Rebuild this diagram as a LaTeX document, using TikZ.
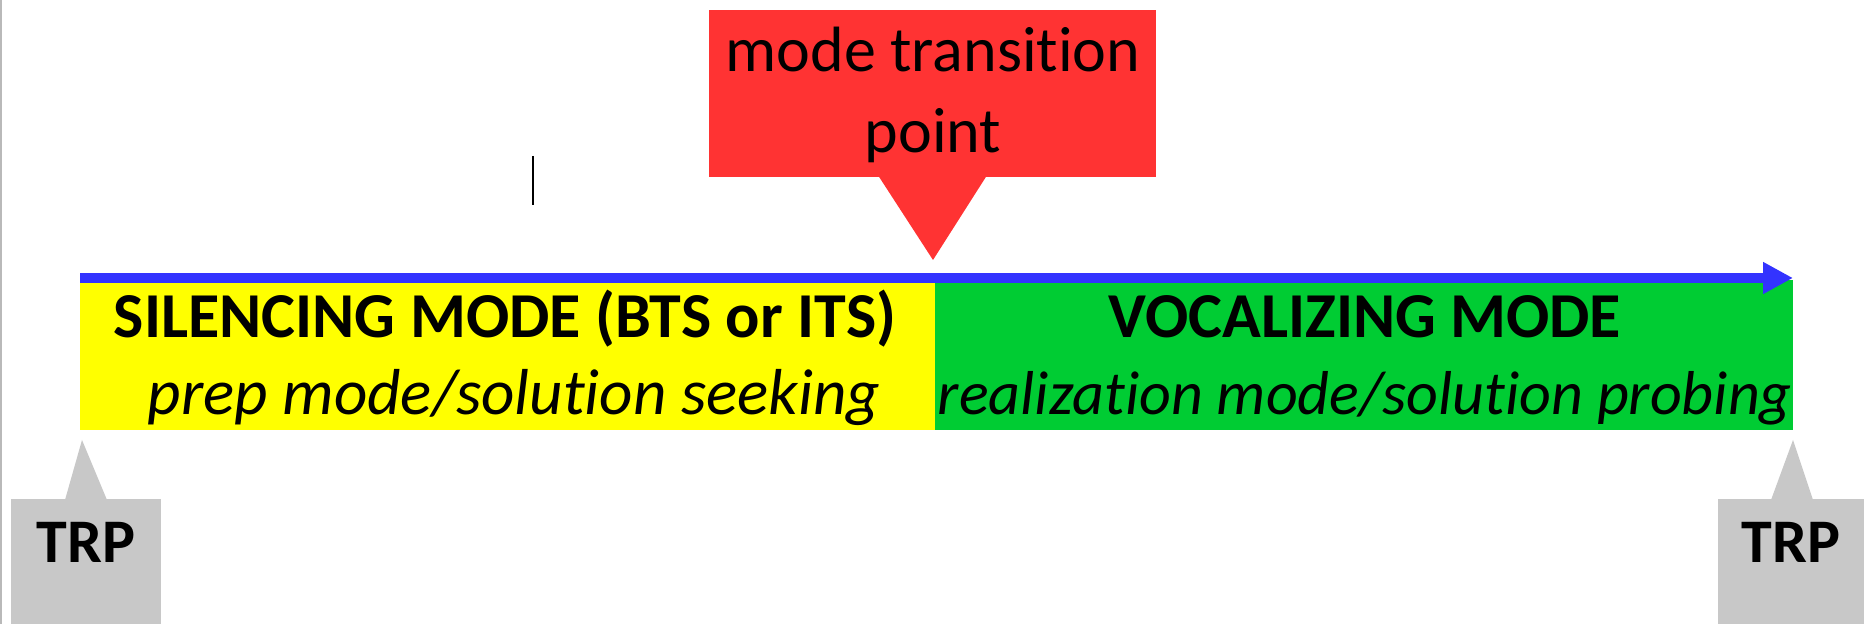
\documentclass[tikz,border=0pt]{standalone}
\usepackage{fontspec}
\setmainfont{Carlito}[Ligatures={TeX,NoCommon}]
\usetikzlibrary{arrows.meta,calc}
\definecolor{mtred}{HTML}{FF3333}
\definecolor{silyellow}{HTML}{FFFF00}
\definecolor{vocgreen}{HTML}{00CC33}
\definecolor{axisblue}{HTML}{3333FF}
\definecolor{trpgray}{HTML}{C8C8C8}
\tikzset{
  panel/.style={inner sep=0pt, outer sep=0pt, draw=none},
  headtext/.style={anchor=base, inner sep=0pt, font=\fontsize{32pt}{38pt}\selectfont\bfseries},
  subtext/.style={anchor=base, inner sep=0pt, font=\fontsize{31pt}{38pt}\selectfont\itshape},
  calltext/.style={anchor=base, inner sep=0pt, font=\fontsize{32pt}{38pt}\selectfont},
  trptext/.style={anchor=base, inner sep=0pt, font=\fontsize{31pt}{38pt}\selectfont\bfseries},
  timeline/.style={draw=axisblue, line width=4.8pt, -{Triangle[length=15pt,width=15pt]}},
}
\begin{document}
\begin{tikzpicture}[x=0.5pt,y=-0.5pt]
  \useasboundingbox (0,0) rectangle (1864,624);
  \clip (0,0) rectangle (1864,624);
  \fill[white] (0,0) rectangle (1864,624);
  % thin page edge on the left
  \draw[gray!55, line width=0.8pt] (0.8,0) -- (0.8,624);

  % the two modes
  \node[panel, fill=silyellow, minimum width=427.5pt, minimum height=75pt] (sil) at (507.5,355) {};
  \node[panel, fill=vocgreen, minimum width=429pt, minimum height=75pt] (voc) at (1364,355) {};
  \node[headtext] (silhead) at (505,338) {SILENCING MODE (BTS or ITS)};
  \node[subtext, font=\fontsize{32.5pt}{38pt}\selectfont\itshape] (silsub) at (514,415) {prep mode/solution seeking};
  \node[headtext] (vochead) at (1365,338) {VOCALIZING MODE};
  \node[subtext] (vocsub) at (1365,415) {realization mode/solution probing};

  % time axis
  \coordinate (axisstart) at (80,278);
  \coordinate (axisend) at (1793,278);
  \draw[timeline] (axisstart) -- (axisend);

  % mode transition callout
  \node[panel, fill=mtred, minimum width=223.5pt, minimum height=83.5pt] (mtp) at (932.5,93.5) {};
  \coordinate (mtptip) at (933,260);
  \fill[mtred] ($(mtp.south)+(-54,-1)$) -- (mtptip) -- ($(mtp.south)+(54,-1)$) -- cycle;
  \node[calltext] (mtpline1) at (933,72) {mode transition};
  \node[calltext] (mtpline2) at (933,153) {point};

  % transition relevance places
  \node[panel, fill=trpgray, minimum width=75pt, minimum height=70.5pt] (trpl) at (86,569.5) {};
  \coordinate (trpltip) at (82,440);
  \fill[trpgray] ($(trpl.north)+(-21,1)$) -- (trpltip) -- ($(trpl.north)+(21,1)$) -- cycle;
  \node[trptext] (trpltext) at (86,563) {TRP};

  \node[panel, fill=trpgray, minimum width=74pt, minimum height=70.5pt] (trpr) at (1792,569.5) {};
  \coordinate (trprtip) at (1793,440);
  \fill[trpgray] ($(trpr.north)+(-21,1)$) -- (trprtip) -- ($(trpr.north)+(21,1)$) -- cycle;
  \node[trptext] (trprtext) at (1791,563) {TRP};

  % text cursor mark
  \draw[black, line width=1.3pt] (533,156) -- (533,205);
\end{tikzpicture}
\end{document}
